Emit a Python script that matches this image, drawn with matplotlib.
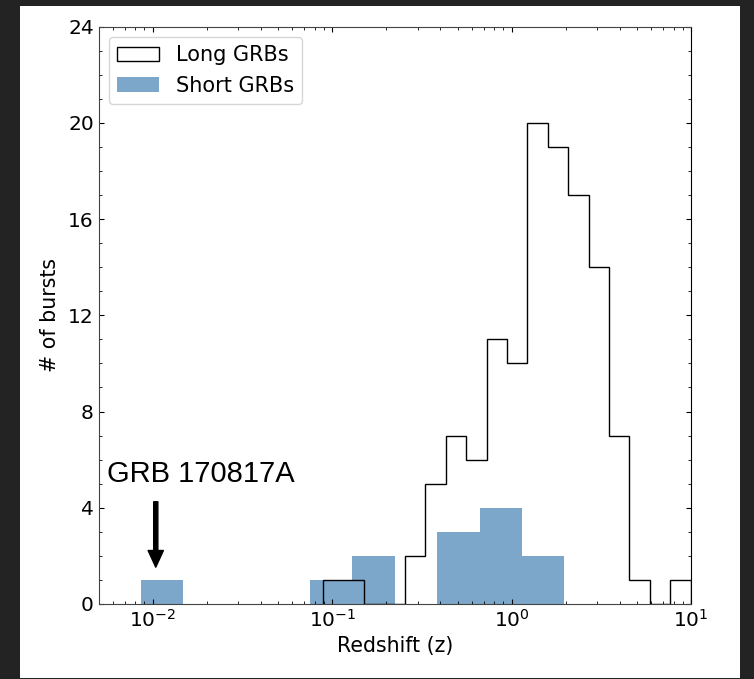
import numpy as np
import matplotlib
matplotlib.use("Agg")
import matplotlib.pyplot as plt
from matplotlib.patches import Rectangle
from matplotlib.ticker import MultipleLocator

# long GRB redshift histogram: counts per log-spaced bin over [z_lo, z_hi]
long_z_lo, long_z_hi = 0.0893, 9.95
long_counts = [1, 1, 0, 0, 2, 5, 7, 6, 11, 10, 20, 19, 17, 14, 7, 1, 0, 1]

# short GRB redshift histogram (coarser bins)
short_z_lo, short_z_hi = 0.00857, 1.967
short_counts = [1, 0, 0, 0, 1, 2, 0, 3, 4, 2]

grb_name = "GRB 170817A"
grb_z = 0.0104


def log_bins(lo, hi, n):
	return np.logspace(np.log10(lo), np.log10(hi), n + 1)


long_bins = log_bins(long_z_lo, long_z_hi, len(long_counts))
short_bins = log_bins(short_z_lo, short_z_hi, len(short_counts))
long_mid = np.sqrt(long_bins[:-1] * long_bins[1:])
short_mid = np.sqrt(short_bins[:-1] * short_bins[1:])

fig = plt.figure(figsize=(7.54, 6.79), dpi=100, facecolor="#232323")
fig.add_artist(Rectangle((20 / 754, 1 / 679), 720 / 754, 672 / 679,
	transform=fig.transFigure, facecolor="white", edgecolor="none", zorder=0))

ax = fig.add_axes([0.1309, 0.1105, 0.7855, 0.8502])

ax.hist(long_mid, bins=long_bins, weights=long_counts, histtype="step",
	color="black", linewidth=1.0, label="Long GRBs")
ax.hist(short_mid, bins=short_bins, weights=short_counts, histtype="bar",
	color="steelblue", alpha=0.7, label="Short GRBs")

ax.annotate("", xy=(grb_z, 1.53), xytext=(grb_z, 4.25),
	arrowprops=dict(facecolor="black", edgecolor="black", width=3.0,
		headwidth=11, headlength=12, shrink=0))
ax.text(0.00554, 5.06, grb_name, ha="left", va="baseline",
	fontsize=21, family=["Liberation Sans", "DejaVu Sans"])

ax.set_xscale("log")
ax.set_xlim(5e-3, 10)
ax.set_ylim(0, 24)
ax.yaxis.set_major_locator(MultipleLocator(4))
ax.yaxis.set_minor_locator(MultipleLocator(1))
ax.tick_params(which="both", direction="in", top=True, right=True, labelsize=14.5)
for side in ["left", "bottom", "top"]:
	ax.spines[side].set_color("#444444")

ax.set_xlabel("Redshift (z)", fontsize=14.8)
ax.set_ylabel("# of bursts", fontsize=14.8, labelpad=6)
ax.legend(loc="upper left", fontsize=15)

fig.savefig("out.png", dpi=100, facecolor=fig.get_facecolor())
